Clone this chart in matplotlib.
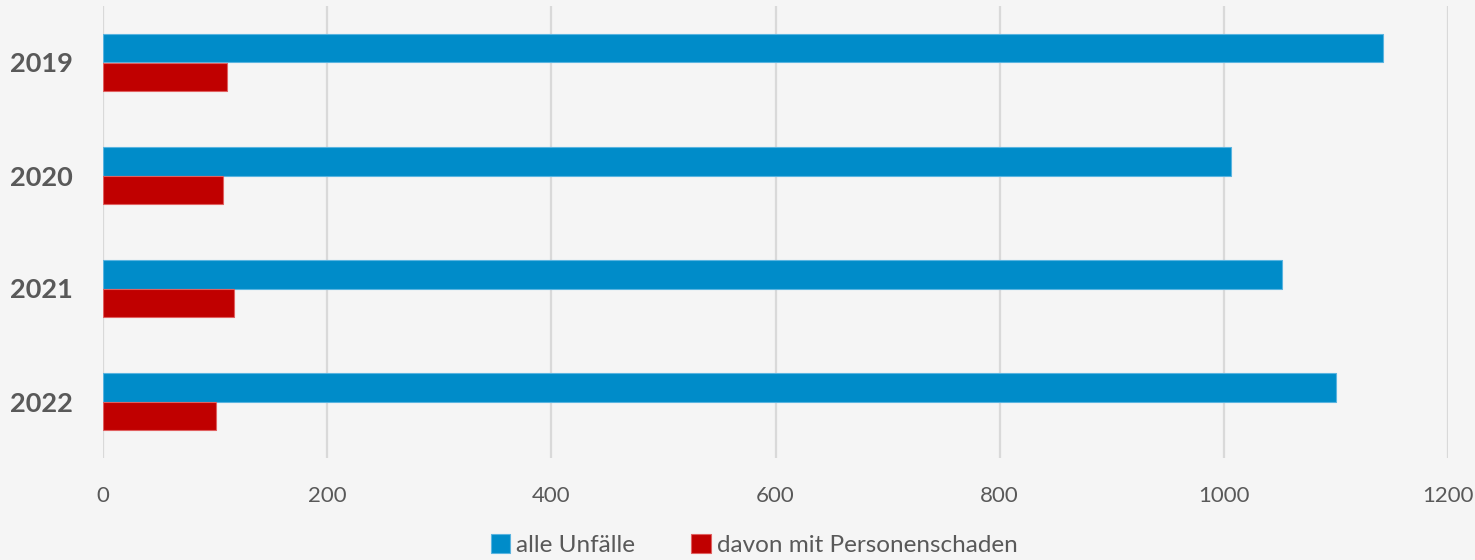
import matplotlib
matplotlib.use("Agg")
import matplotlib.pyplot as plt
import numpy as np

# data
years = ["2019", "2020", "2021", "2022"]
alle_unfaelle = [1142, 1006, 1052, 1100]
personenschaden = [111, 107, 117, 101]
x_ticks = [0, 200, 400, 600, 800, 1000, 1200]

plt.rcParams['font.family'] = ['Lato', 'DejaVu Sans']

bg = '#f5f5f5'
txt = '#595959'
blue = '#008cc9'
red = '#c00000'

fig = plt.figure(figsize=(14.75, 5.6), dpi=100, facecolor=bg)
ax = fig.add_axes([103 / 1475, 1 - 458 / 560, (1448 - 103) / 1475, (458 - 6) / 560])
ax.set_facecolor(bg)

y = np.arange(len(years))
h = 0.255
ax.barh(y - h / 2, alle_unfaelle, height=h, color=blue, edgecolor='#5ab4e0',
        linewidth=0.8, label='alle Unfälle', zorder=3)
ax.barh(y + h / 2, personenschaden, height=h, color=red, edgecolor='#e06060',
        linewidth=0.8, label='davon mit Personenschaden', zorder=3)

ax.set_xlim(0, 1200)
ax.set_ylim(len(years) - 0.5, -0.5)
ax.set_xticks(x_ticks)
ax.set_xticklabels([str(v) for v in x_ticks])
ax.set_yticks(y)
ax.set_yticklabels(years, fontsize=19.5, fontweight='bold', color=txt)
ax.tick_params(axis='x', labelsize=16, labelcolor=txt, length=0, pad=20)
ax.tick_params(axis='y', length=0, pad=21.5)

ax.grid(axis='x', color='#d9d9d9', linewidth=1.6, zorder=0)
for spine in ax.spines.values():
    spine.set_visible(False)

leg = fig.legend(loc='center', bbox_to_anchor=(754 / 1475, 1 - 545 / 560), ncol=2,
                 frameon=False, fontsize=17.5, handlelength=0.8, handleheight=0.8,
                 handletextpad=0.25, columnspacing=2.3, labelcolor=txt)

fig.savefig('out.png', dpi=100, facecolor=bg)
